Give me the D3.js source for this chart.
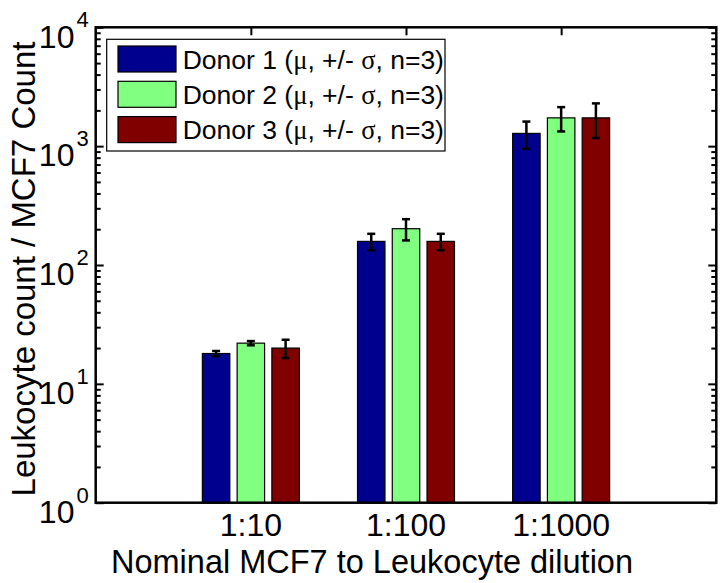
<!DOCTYPE html>
<html>
<head>
<meta charset="utf-8">
<script src="https://cdn.jsdelivr.net/npm/d3@7"></script>
<style>
  html, body { margin: 0; padding: 0; background: #fff; }
  svg { display: block; }
  text { font-family: "Liberation Sans", Arial, sans-serif; fill: #000; }
</style>
</head>
<body>
<svg id="chart" width="720" height="583"></svg>
<script>
// ---- data ----
const categories = ["1:10", "1:100", "1:1000"];
const seriesNames = ["Donor 1", "Donor 2", "Donor 3"];
const donor1 = [18, 158, 1280];
const donor2 = [22, 202, 1730];
const donor3 = [20, 158, 1730];
const sd1 = [0.9, 25, 330];
const sd2 = [0.9, 41, 400];
const sd3 = [3.5, 25, 560];
const yTickExps = [0, 1, 2, 3, 4];
const colors = ["#00008F", "#80FF80", "#800000"];

const means = [donor1, donor2, donor3];
const sds = [sd1, sd2, sd3];

// ---- layout ----
const svg = d3.select("#chart");
const L = 95.7, R = 716.3, T = 27.3, B = 502.7;

const x = d3.scaleLinear().domain([0, 4]).range([L, R]);
const y = d3.scaleLog().domain([1, 1e4]).range([B, T]);

const barOffset = 0.224;   // in category units
const barWidth = 0.177;

const majorVals = yTickExps.map(e => Math.pow(10, e));
const minorVals = [];
for (let e = 0; e < 4; e++) for (let m = 2; m <= 9; m++) minorVals.push(m * Math.pow(10, e));

// bottom ticks (drawn under bars)
const gBottom = svg.append("g").attr("transform", `translate(0,${B})`)
  .call(d3.axisBottom(x).tickValues([1, 2, 3]).tickSize(-8).tickFormat(""));
gBottom.select(".domain").remove();
gBottom.selectAll("line").attr("stroke", "#000").attr("stroke-width", 2);

// ---- bars ----
const barData = [];
means.forEach((arr, s) => arr.forEach((v, c) => barData.push({ s, c, v, sd: sds[s][c] })));

const cx = d => x(d.c + 1 + (d.s - 1) * barOffset);

svg.append("g").selectAll("rect").data(barData).enter().append("rect")
  .attr("x", d => cx(d) - (x(barWidth) - x(0)) / 2)
  .attr("width", x(barWidth) - x(0))
  .attr("y", d => y(d.v))
  .attr("height", d => y(1) - y(d.v))
  .attr("fill", d => colors[d.s])
  .attr("stroke", "#000").attr("stroke-width", 1.2);

// ---- error bars ----
const cap = 4;
const gErr = svg.append("g").attr("stroke", "#000").attr("stroke-width", 2.5);
barData.forEach(d => {
  const X = cx(d), y1 = y(d.v + d.sd), y0 = y(Math.max(d.v - d.sd, 1));
  gErr.append("line").attr("x1", X).attr("x2", X).attr("y1", y1).attr("y2", y0);
  gErr.append("line").attr("x1", X - cap).attr("x2", X + cap).attr("y1", y1).attr("y2", y1);
  gErr.append("line").attr("x1", X - cap).attr("x2", X + cap).attr("y1", y0).attr("y2", y0);
});

// ---- axes ticks ----
function styleAxis(g) {
  g.select(".domain").remove();
  g.selectAll("line").attr("stroke", "#000").attr("stroke-width", 2);
}
const gLeft = svg.append("g").attr("transform", `translate(${L},0)`)
  .call(d3.axisLeft(y).tickValues(majorVals).tickSize(-8).tickFormat("")).call(styleAxis);
svg.append("g").attr("transform", `translate(${L},0)`)
  .call(d3.axisLeft(y).tickValues(minorVals).tickSize(-5).tickFormat("")).call(styleAxis);
svg.append("g").attr("transform", `translate(${R},0)`)
  .call(d3.axisRight(y).tickValues(majorVals).tickSize(-8).tickFormat("")).call(styleAxis);
svg.append("g").attr("transform", `translate(${R},0)`)
  .call(d3.axisRight(y).tickValues(minorVals).tickSize(-5).tickFormat("")).call(styleAxis);
svg.append("g").attr("transform", `translate(0,${T})`)
  .call(d3.axisTop(x).tickValues([1, 2, 3]).tickSize(-8).tickFormat("")).call(styleAxis);

// frame
svg.append("rect").attr("x", L).attr("y", T).attr("width", R - L).attr("height", B - T)
  .attr("fill", "none").attr("stroke", "#000").attr("stroke-width", 2.5);

// y tick labels 10^k
const fsTick = 32;
gLeft.selectAll(".tick").each(function(d) {
  const e = Math.round(Math.log10(d));
  const t = d3.select(this).append("text")
    .attr("x", -7).attr("y", 0).attr("text-anchor", "end")
    .style("font-size", fsTick + "px").attr("fill", "#000");
  t.append("tspan").attr("dy", "0.62em").text("10");
  t.append("tspan").attr("dx", "2").attr("dy", "-0.92em").style("font-size", "22px").text(String(e));
});

// x tick labels
svg.append("g").selectAll("text").data(categories).enter().append("text")
  .attr("x", (d, i) => x(i + 1)).attr("y", 536)
  .attr("text-anchor", "middle").style("font-size", fsTick + "px")
  .text(d => d);

// axis labels
svg.append("text").attr("x", 372).attr("y", 573)
  .attr("text-anchor", "middle").style("font-size", "32.5px")
  .text("Nominal MCF7 to Leukocyte dilution");
svg.append("text")
  .attr("transform", `translate(35,269) rotate(-90)`)
  .attr("text-anchor", "middle").style("font-size", "33px")
  .text("Leukocyte count / MCF7 Count");

// ---- legend ----
const lg = svg.append("g");
lg.append("rect").attr("x", 106.7).attr("y", 39.3).attr("width", 445 - 106.7).attr("height", 151 - 39.3)
  .attr("fill", "#fff").attr("stroke", "#000").attr("stroke-width", 1.2);
seriesNames.forEach((name, i) => {
  const yTop = 46 + i * 35.3;
  lg.append("rect").attr("x", 118).attr("y", yTop).attr("width", 58).attr("height", 26)
    .attr("fill", colors[i]).attr("stroke", "#000").attr("stroke-width", 1.2);
  const t = lg.append("text").attr("x", 182.7).attr("y", yTop + 13).attr("dy", "0.36em")
    .style("font-size", "26.5px");
  t.append("tspan").text(name + " (");
  t.append("tspan").style("font-family", "'Liberation Serif', serif").text("\u03BC");
  t.append("tspan").text(", +/- ");
  t.append("tspan").style("font-family", "'Liberation Serif', serif").text("\u03C3");
  t.append("tspan").text(", n=3)");
});
</script>
</body>
</html>
